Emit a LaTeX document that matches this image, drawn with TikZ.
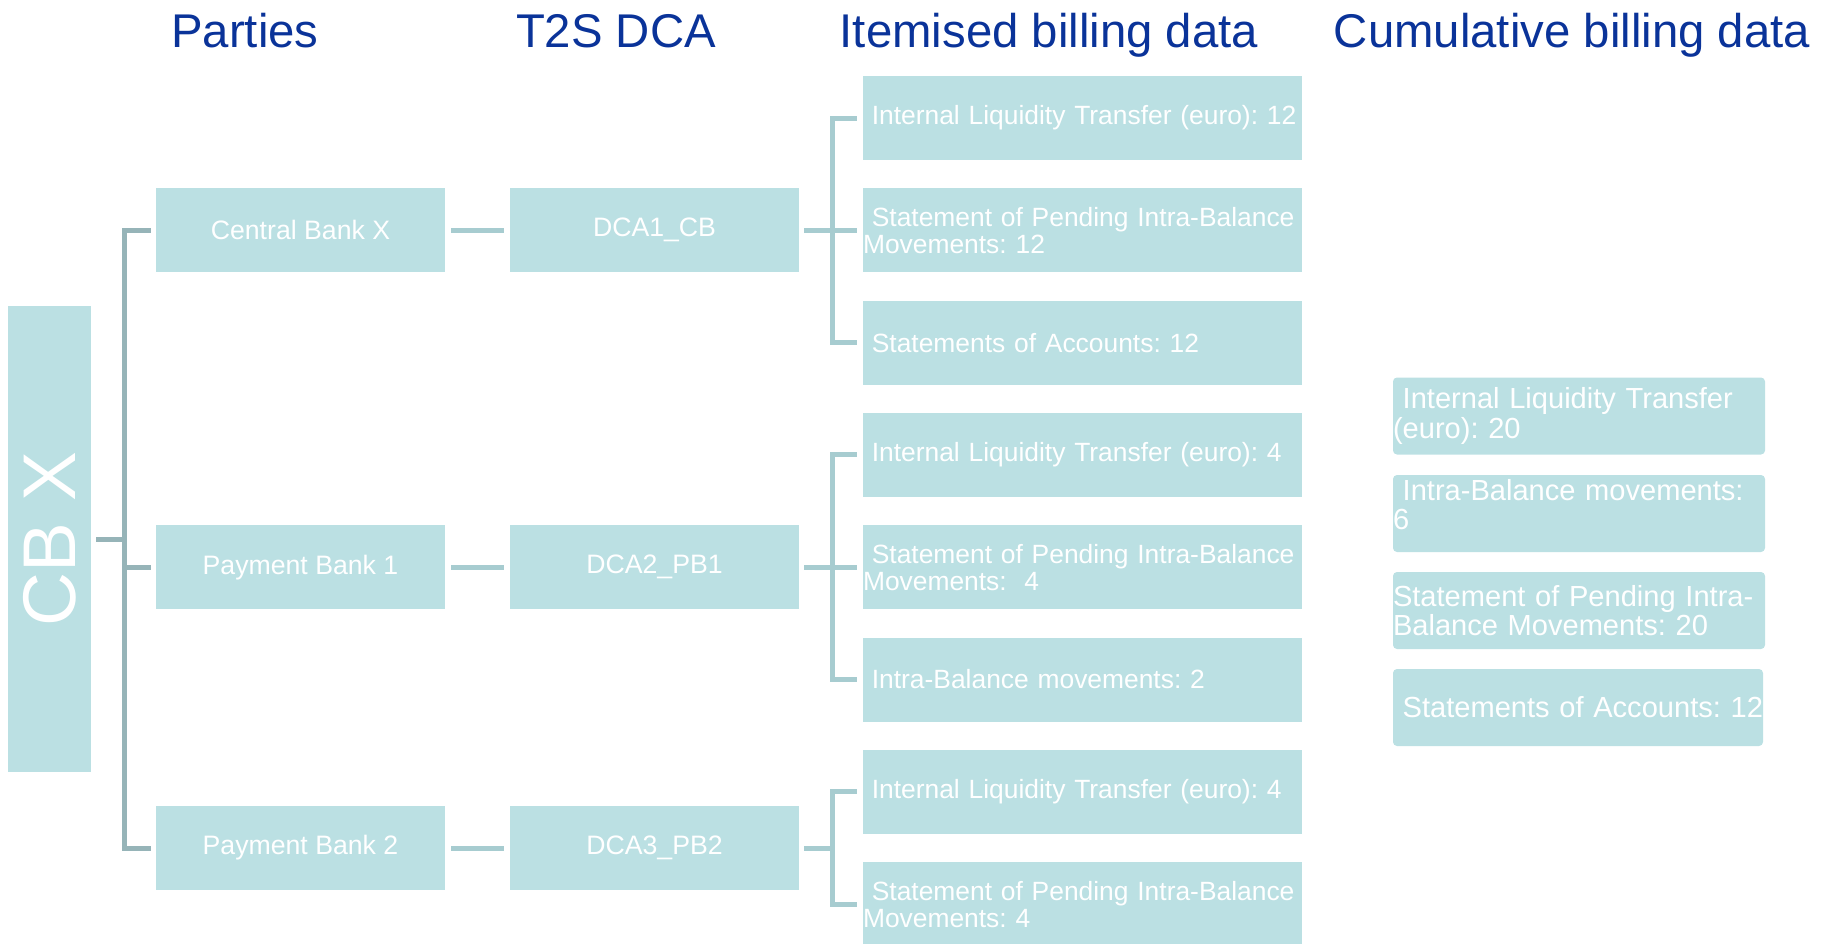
\documentclass[tikz,border=0pt]{standalone}
\usepackage{fontspec}
\setmainfont{Liberation Sans}
\frenchspacing
\definecolor{boxfill}{HTML}{BBE0E3}
\definecolor{hdrblue}{HTML}{0A3399}
\definecolor{lconn}{HTML}{96B4B8}
\definecolor{rconn}{HTML}{A7CCD0}
\begin{document}
\begin{tikzpicture}[x=0.75pt,y=-0.75pt,
  hdr/.style={anchor=base,text=hdrblue,font=\fontsize{35.5}{40}\selectfont,inner sep=0pt},
  pbox/.style={fill=boxfill,text=white,minimum width=216.75pt,minimum height=63pt,inner sep=0pt,font=\fontsize{20}{24}\selectfont},
  ibox/.style={fill=boxfill,text=white,text width=329.25pt,align=left,minimum height=63pt,inner xsep=0pt,inner ysep=0pt,font=\fontsize{19.8}{20.25}\selectfont},
  cbox/.style={fill=boxfill,text=white,text width=279pt,align=left,minimum height=57.75pt,inner xsep=0pt,inner ysep=0pt,rounded corners=3pt,font=\fontsize{21.8}{21.9}\selectfont},
  lc/.style={draw=lconn,line width=3.75pt},
  rc/.style={draw=rconn,line width=3.75pt}]
\useasboundingbox (0,0) rectangle (1831,943);

% headers
\node[hdr] (hP) at (245,47) {Parties};
\node[hdr] (hT) at (616,47) {T2S DCA};
\node[hdr] (hI) at (1049,47) {Itemised billing data};
\node[hdr] (hC) at (1572,47) {Cumulative billing data};

% CB X
\node[fill=boxfill,minimum width=62.25pt,minimum height=349.5pt,inner sep=0pt] (cbx) at (49.5,539) {};
\node[text=white,rotate=90,font=\fontsize{56}{60}\selectfont,inner sep=0pt] (cbxt) at (cbx.center) {CB X};

% parties
\node[pbox] (pcb) at (300.5,230.3) {Central Bank X};
\node[pbox] (pb1) at (300.5,567.2) {Payment Bank 1};
\node[pbox] (pb2) at (300.5,848) {Payment Bank 2};

% DCAs
\node[pbox] (d1) at (654.5,230.3) {DCA1\_CB};
\node[pbox] (d2) at (654.5,567.2) {DCA2\_PB1};
\node[pbox] (d3) at (654.5,848) {DCA3\_PB2};

% itemised
\node[ibox] (i1) at (1082.5,118) {\mbox{~Internal Liquidity Transfer (euro): 12}};
\node[ibox] (i2) at (1082.5,230.3) {\mbox{~Statement of Pending Intra-Balance}\\Movements: 12};
\node[ibox] (i3) at (1082.5,342.6) {~Statements of Accounts: 12};
\node[ibox] (i4) at (1082.5,454.9) {\mbox{~Internal Liquidity Transfer (euro): 4}};
\node[ibox] (i5) at (1082.5,567.2) {\mbox{~Statement of Pending Intra-Balance}\\Movements:~~4};
\node[ibox] (i6) at (1082.5,679.5) {~Intra-Balance movements: 2};
\node[ibox] (i7) at (1082.5,791.8) {\mbox{~Internal Liquidity Transfer (euro): 4}};
\node[ibox] (i8) at (1082.5,904.1) {\mbox{~Statement of Pending Intra-Balance}\\Movements: 4};

% cumulative
\node[cbox] (c1) at (1579,416) {\mbox{~Internal Liquidity Transfer}\\(euro): 20};
\node[cbox] (c2) at (1579,513.5) {\mbox{~Intra-Balance movements:}\\6\\[-8pt]\mbox{}};
\node[cbox] (c3) at (1579,610.5) {\mbox{Statement of Pending Intra-}\\Balance Movements: 20};
\node[cbox,text width=277.5pt] (c4) at (1578,707.5) {\mbox{~Statements of Accounts: 12}};

% left bracket
\coordinate (jL) at (124,539);
\draw[lc] ([shift={(5,0)}]cbx.east) -- (jL);
\draw[lc] ([shift={(-5,0)}]pcb.west) -| (jL) |- ([shift={(-5,0)}]pb2.west);
\draw[lc] (jL) |- ([shift={(-5,0)}]pb1.west);

% party to DCA
\draw[rc] ([shift={(6,0)}]pcb.east) -- ([shift={(-6,0)}]d1.west);
\draw[rc] ([shift={(6,0)}]pb1.east) -- ([shift={(-6,0)}]d2.west);
\draw[rc] ([shift={(6,0)}]pb2.east) -- ([shift={(-6,0)}]d3.west);

% DCA to itemised
\coordinate (j1) at (832,230.3);
\draw[rc] ([shift={(5,0)}]d1.east) -- ([shift={(-6,0)}]i2.west);
\draw[rc] ([shift={(-6,0)}]i1.west) -| (j1) |- ([shift={(-6,0)}]i3.west);

\coordinate (j2) at (832,567.2);
\draw[rc] ([shift={(5,0)}]d2.east) -- ([shift={(-6,0)}]i5.west);
\draw[rc] ([shift={(-6,0)}]i4.west) -| (j2) |- ([shift={(-6,0)}]i6.west);

\coordinate (j3) at (832,848);
\draw[rc] ([shift={(5,0)}]d3.east) -- (j3);
\draw[rc] ([shift={(-6,0)}]i7.west) -| (j3) |- ([shift={(-6,0)}]i8.west);
\end{tikzpicture}
\end{document}
